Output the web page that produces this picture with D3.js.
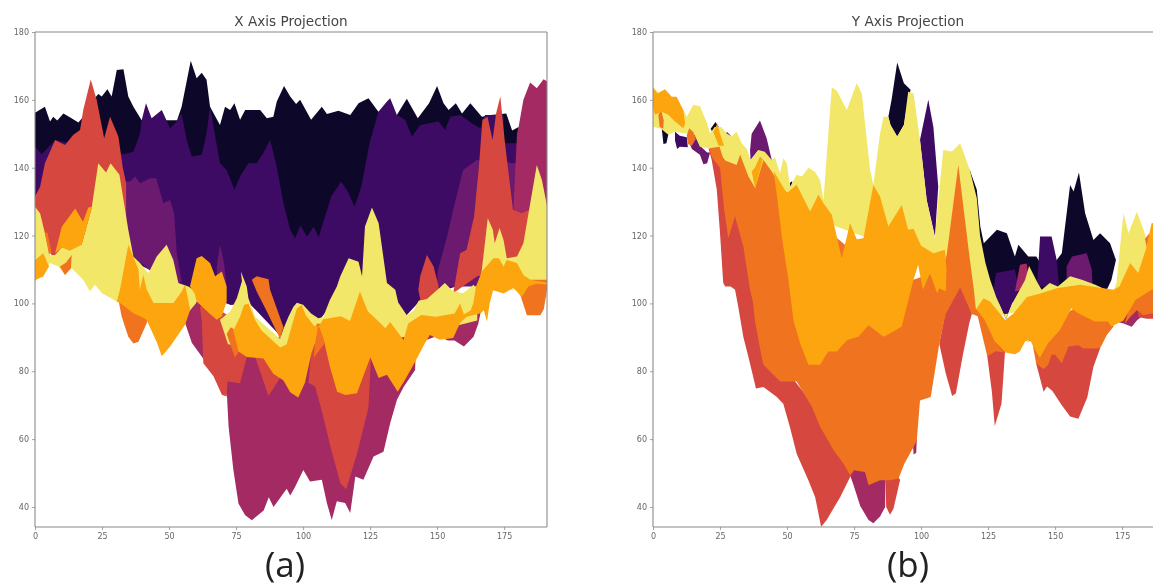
<!DOCTYPE html>
<html><head><meta charset="utf-8">
<script src="https://cdn.jsdelivr.net/npm/d3@7"></script>
<style>html,body{margin:0;padding:0;background:#fff;overflow:hidden}svg{display:block;filter:blur(.6px)}</style>
</head><body><div id="c"></div>
<script>
const xTicks=[0,25,50,75,100,125,150,175];
const yTicks=[40,60,80,100,120,140,160,180];
const titles=["X Axis Projection","Y Axis Projection"];
const captions=["(a)","(b)"];
const palette={black:"#0d0829",purple:"#3d0b63",purple2:"#6b1a70",magenta:"#a32a63",red:"#d5473f",yellow:"#f2e768",orange:"#f0731f",amber:"#fca50f"};

/* Panel (a): outlines of each coloured band as [column, row value] */
const aBlack=[[0,156.2],[3.7,158],[5.6,153.6],[6.8,155],[8.3,153.9],[10.6,156],[13,154.9],[16.2,153.3],[18,155],[21.8,160],[23.6,161.7],[24.9,161],[27,163.1],[28.6,161],[30.5,168.8],[33,169],[34.8,161],[36.7,158],[39.8,154],[53,154],[54.7,158],[58.1,171.5],[60.3,166.4],[62.2,168],[64,165.9],[65.3,158],[69,152.6],[70.9,158],[72.8,157],[74.4,159],[76.5,154.1],[78.4,157],[84,157],[86.5,154.6],[88.9,155],[90.2,159.5],[92.9,164.1],[95.2,161],[97.4,158.8],[98.9,160],[103,154.1],[107,158],[108.9,155.8],[113.2,156.8],[117.6,155.5],[120.7,159],[124.4,160.5],[128.1,156.5],[135,155.5],[138.7,160.3],[142.8,154.6],[147,159],[150,164.1],[152.4,159],[154.3,157],[157,159],[159.3,156],[162.4,159],[166.7,155],[170,155.5],[175.8,156],[178,151],[180.4,152],[181,135],[100,110],[0,135]];
const aPurple=[[0,146.2],[2.5,144],[7.5,148.2],[33,144],[36.7,144.7],[39.2,150.1],[39.8,154],[41.4,159],[43.5,154.6],[47.3,157],[50.4,151.6],[52.9,153.6],[54.7,156],[56.6,148.2],[58.5,143.3],[62.2,143.8],[64,150.1],[65.3,158],[69,141.3],[71.5,139.3],[74.4,133.5],[76.5,137.4],[79.6,141.3],[82.7,141.3],[85.2,144.3],[87.7,148.2],[90.2,140.3],[92.7,129.5],[95.2,121.7],[97,119.2],[99,123],[101.5,119.7],[104,122.6],[105.8,119.5],[110.5,131.5],[114.2,135.9],[116.7,133],[119.2,128.5],[121.7,134.4],[124.8,147.2],[128.1,156.5],[131.3,159.5],[132.5,160.5],[135,155.5],[138.1,154.1],[140.6,149.2],[143.7,152.6],[150.5,153.6],[153,151.1],[154.9,155],[158.6,155.5],[163,153.1],[166.1,151.6],[167.9,155.5],[171,155.5],[174.8,155.5],[174.9,147.2],[179.2,147.2],[181,147],[181,122],[165,107],[145,102],[138,96],[115,104],[106,95],[92,90],[80,100],[73,99.5],[55,105],[30,115],[0,128]];
const aPurple2A=[[33.6,135.9],[35.5,135.9],[37.3,137.4],[39.2,135.4],[42.9,136.9],[45.2,136.9],[47.9,129.5],[50.4,130.5],[51.9,126.6],[52.9,114.8],[54.7,106.4],[50,105],[35,115],[33,125]];
const aPurple2B=[[67.8,110.9],[69,117.3],[70.5,112],[71.5,105],[68,105]];
const aPurple2C=[[150,105],[150.3,109.9],[153.4,118.7],[157.2,131.5],[159.7,139.3],[164.8,142.3],[168,142],[168,105]];
const aPurple2D=[[175,142],[178,141.3],[181,141.3],[181,125],[176,125]];
const aMagentaA=[[56,96.1],[60.3,100.6],[80,90],[100,90],[120,85],[135,90],[150,100],[166.3,100],[166.3,97.6],[165.4,94.1],[163.6,90.2],[160,87.3],[156.5,89.1],[154,89.1],[150.3,90.5],[146.2,89.3],[144.3,88.2],[142,85.3],[141.8,80.4],[137.5,75.4],[135,71.5],[132.5,64.7],[130,56.3],[126.3,54.9],[122.5,48],[119.5,49],[117.6,38.2],[115.7,41.2],[112.6,41.7],[110.7,36.2],[108.9,41.1],[107,48],[102.6,47.5],[100.1,50.9],[97,45.9],[95.2,43.4],[93.9,45.4],[89,40],[87.2,42.9],[85.3,39],[80.9,36.1],[78.4,37.6],[75.9,41],[74,51],[72.2,63.8],[71.6,73.1],[71,74],[67,79.5],[63,83.5],[58.5,88.4],[56,94.2]];
const aMagentaB=[[179.8,150.1],[180.4,152],[182.2,160],[184.7,165.1],[187.2,163.4],[189.7,166.1],[192,165],[192,120],[178.5,120],[178.5,128.5],[179.1,138.4]];
const aRedA=[[0,131.5],[1.9,134.4],[3.7,141.3],[7.5,148.2],[11.2,146.7],[14.3,149.7],[16.8,151.1],[18,157],[20.8,166],[23,160],[25.8,148.7],[28,155],[31.1,149.2],[32.7,140.3],[34,135.4],[34,125],[20,112],[8,112],[4,117],[0,128]];
const aRedB=[[61.5,99],[62.2,95],[62.8,82.4],[66.6,78.5],[69.7,73.1],[71.5,72.6],[71.8,77],[76.5,76.5],[79,84.2],[82.1,84.2],[87.1,72.7],[91.4,78],[92,85],[75,95],[65,100]];
const aRedC=[[102,76.6],[104.5,75.5],[107.2,67.6],[110.2,57.8],[113.9,47],[116.1,45.2],[120.1,55.6],[124.4,69.3],[125.3,83.5],[125,90],[104,90],[103,85]];
const aRedD=[[143,104],[143.7,108],[146.2,114.3],[148.7,110.9],[150.6,105],[150,100],[144,100]];
const aRedE=[[156,103],[158.6,114.8],[161,115.8],[163.8,125.6],[165.6,140.3],[166.9,154.1],[168.8,155],[170.7,148.2],[172,156],[173.6,161],[175.2,148.2],[178.3,127.6],[181.5,126.6],[184.5,127.6],[186,112],[165,108]];
const aYellowA=[[0,128.5],[1.9,126.6],[3.7,120.7],[5.6,114.3],[7.5,114.3],[10,116.5],[17.4,117.3],[21.1,128],[23.6,141.3],[26.5,138.6],[28.2,141.3],[31.5,137.9],[34.8,121.7],[36.7,113.8],[39.2,111.9],[42.3,108.9],[45.4,113.8],[49.1,117.3],[51.6,112.8],[53.5,106],[57.2,105],[61,103],[60,100],[57.8,98],[56,100],[54.7,103.5],[51.6,100.1],[42,100],[32,100],[30.5,100.6],[25,103],[22.4,105.5],[20.5,103.5],[18,107],[13.7,110.4],[11.2,108.4],[8.7,110.9],[5.6,111.9],[3.1,108.4],[0,106.5]];
const aYellowB=[[69,95.2],[72.8,97.6],[75.3,101.5],[77.2,106.5],[76.8,109.4],[79,105],[79.6,101.6],[82.1,96.1],[91.4,89.6],[92.7,92.5],[94.5,96],[96.4,99],[97.7,100.2],[100,99.6],[103,97],[105.7,95.6],[107.5,96],[110,101],[112.6,105],[113.9,108],[117,113.3],[120.7,112.3],[122,108],[123.1,122.7],[125.7,128.3],[128.2,123.6],[131.3,106],[134.4,104],[135.5,100.3],[138.7,96.5],[141.3,98],[143.1,100.8],[146.2,101.3],[149.5,103.6],[152.9,106],[156,103.6],[159.7,103],[163.6,105.5],[165,104],[165,95],[140,90],[110,90],[95,85],[72,88]];
const aYellowC=[[165.8,106],[166.7,110],[168.9,125.1],[170.8,121.7],[171.5,117.7],[173.3,122.2],[174.8,118.7],[176,113.3],[179.8,113.8],[182.2,117.7],[184.1,126.6],[187.2,140.8],[189.1,136.4],[191.2,128],[192,126],[192,104],[166,104]];
const aOrangeA=[[31,101.6],[32.3,96.2],[34.8,90.2],[36.7,88.2],[38.6,88.7],[41.7,94.2],[42,97],[32,103]];
const aOrangeB=[[9.3,110.9],[11.5,112],[13.7,114.3],[13.4,110.4],[11.2,108.4]];
const aOrangeC=[[80.9,107],[82.7,108],[87.1,107.1],[87.7,104],[92.7,93],[91.4,89.6],[86.5,97.6],[82.7,103.5]];
const aOrangeD=[[71.5,91],[74.6,84],[76,85.8],[75,92],[73,93]];
const aOrangeE=[[180,105],[183.5,96.5],[188.5,96.5],[189.8,98.3],[191.2,104.9],[192,107],[184,107]];
const aOrangeF=[[104,84],[105,94],[108,94],[107.8,88]];
const aOrangeG=[[3.7,120.7],[4.6,121],[6.2,115],[5.2,114.5]];
const aAmberA=[[7.5,114.8],[10,122.6],[15,128],[17.9,124.1],[19.9,128.3],[21.3,128.5],[17.4,117.3],[13,115.5],[10,116.5]];
const aAmberB=[[0,112.8],[3.1,114.8],[5.2,110.9],[3.1,107.9],[0,106.9]];
const aAmberC=[[57.8,105],[60.3,113.3],[62.2,114],[65.3,111.9],[67.2,108],[69.7,109.4],[71.5,105],[71.5,100.6],[69.7,96.2],[67.8,95.2],[65,97.1],[60.3,100.6],[59.5,103]];
const aAmberD=[[31.7,104],[34.8,117.3],[38.6,110],[39.1,104],[40.4,108.4],[41.7,104],[42.4,103],[44.2,100.1],[51.6,100.1],[54.7,103.5],[56,105.5],[57.9,98.1],[56,93.7],[52.9,90.2],[50.4,87.3],[47.3,84.4],[45.4,88.6],[41.6,95.2],[39.2,96.2],[36.7,97.1],[32,100],[30.5,100.6]];
const aAmberE=[[74,92],[76.5,96.1],[78,99.5],[79.6,100],[82.1,95.1],[84.5,92],[87.7,89.7],[89.6,88.3],[91.5,87],[93.9,88],[96,94],[97.7,98.5],[99.5,99.5],[101,96.5],[104,93.5],[105.7,93],[107.5,95.3],[114.1,96.2],[117.5,94.8],[121.2,103.5],[124.2,97.6],[127.5,95.2],[130.7,92.7],[132.5,94.5],[137.5,89.2],[139.2,94.1],[144.1,96.6],[149.5,96.1],[156.5,97],[158.6,100],[160,96.7],[162.5,98],[163.5,100],[164.5,105],[166.7,109.4],[171,113.3],[173,113.3],[174.8,110.9],[176,112.8],[179.8,111.9],[182.2,108.4],[184.7,107],[192,106],[192,105.5],[187,105.8],[184,105],[181.6,101.8],[178.5,104.6],[174.8,102.9],[170.9,103.9],[169.6,100],[168.6,94.7],[167.4,98],[166.3,97.1],[161,96.1],[158.6,94.2],[156,89.8],[154,89.6],[151,89.3],[147.3,90.7],[145.4,88.2],[141.8,82.8],[138,77.4],[135.3,74],[131.3,79],[128.2,78],[125.1,84.1],[120.1,73.5],[115.8,73],[112.7,74],[110,81.4],[107.5,90],[105.7,93.7],[104.5,88.4],[103.2,85.5],[100.7,76.6],[98.2,72.3],[95.2,73.8],[92.7,77.3],[88.9,79.3],[85.2,83.8],[79,84.2],[75.9,85.8]];

/* Panel (b) */
const bBlackA=[[87.8,155],[89,160],[91.1,171],[93.6,164.9],[96.1,163],[95.2,160],[93.6,152.6],[91.1,149.2],[88.6,152.6]];
const bBlackB=[[118,139.8],[119,137.5],[120.8,133.5],[122.1,122.7],[123.4,117.7],[128.3,121.7],[132,120.7],[135,113.8],[136.3,117.3],[140,113.8],[143,113.8],[146,110],[150.6,112.8],[152.5,114.8],[155.6,134.9],[156.9,133],[158.9,138.6],[161.2,126.6],[164.3,118.7],[166.8,120.7],[170.5,117.7],[172.7,112.8],[171,106.9],[169.3,104],[150,104],[133,100],[122,100]];
const bBlackC=[[3.2,152],[3.9,147],[5,147.2],[5.7,149.7],[4.5,152.5]];
const bBlackD=[[21.5,151.5],[23.3,153.5],[24.5,152],[22.5,150]];
const bBlackE=[[51,135.5],[51.9,136],[52,134.5],[51.3,134]];
const bPurpleA=[[99.6,148.2],[102.7,160],[104.6,152],[106.4,134.4],[105.2,119.7],[102.1,130.5]];
const bPurpleB=[[143.5,108],[144.4,119.7],[148.7,119.7],[150.6,112.8],[151.5,105],[143,105]];
const bPurpleC=[[8.2,150.6],[10,149.4],[12.6,149],[13,146],[10,146.2],[9,145.5],[8.2,148]];
const bPurpleD=[[127,104],[129,100],[131.7,95.3],[134,100],[136.5,104],[135,110],[128,109]];
const bPurple2A=[[13.5,147.5],[15.5,149.8],[17.5,146.5],[20.2,144.5],[21.3,144.5],[20.2,141.3],[18.8,141],[17.5,143.8],[14.5,145.5]];
const bPurple2B=[[36.2,145.2],[36.8,150],[39.9,153.9],[42.4,148.7],[44.3,142.3],[41,143],[39.3,145.2],[36.4,142.3]];
const bPurple2C=[[154.3,105],[154.3,110.9],[156.3,113.8],[161.8,114.8],[163.7,109.9],[164,105]];
const bPurple2D=[[26.8,148.5],[27.5,150.6],[29,149.5],[27.5,147.5]];
const bMagentaA=[[73.5,49.4],[75,55],[85,55],[86.6,48],[86.6,40],[84.7,37.2],[82.2,35.2],[80.4,36.2],[77.3,40.3],[74.8,46.5]];
const bMagentaB=[[135,103.5],[136.9,111.4],[139.4,111.8],[140,108],[138,104]];
const bMagentaC=[[171,95],[175.5,94.1],[178.6,93.1],[180.5,95],[182.9,96.5],[182,100],[172,98]];
const bMagentaD=[[97,58.5],[98.4,60],[98.2,56],[97.2,55.5]];
const bRedA=[[20.7,145.7],[21.9,142.3],[23.8,133.5],[25,120.7],[26.2,106],[26.9,105],[29,105],[30.6,104],[31.8,99],[33.7,90.1],[35.6,84.2],[37.4,78.3],[38.4,74.9],[41.2,75.4],[46.2,72.4],[48.6,70.4],[51.1,63.5],[53.6,55.7],[58,47.8],[60.5,42.9],[62.7,34.2],[64.8,36.2],[69.8,42.9],[73.5,48.8],[76,52],[60,70],[50,80],[40,90],[36,110],[30,130],[26,146]];
const bRedB=[[86.6,48],[87,40],[88.4,37.7],[89.7,39.5],[92.2,48],[90,50]];
const bRedC=[[106.8,88.1],[109.2,79.4],[111.6,72.7],[113,73.5],[115.5,84.4],[118,94.2],[119,97],[114.6,106],[109,97]];
const bRedD=[[124.7,84.4],[126.4,74.1],[127.5,63.9],[130,70.4],[131.3,85.5],[131.5,92],[125,92]];
const bRedE=[[142.9,82.4],[145.7,74],[147,75.5],[149,74.2],[152.5,70],[155.6,66.7],[158.7,66],[162,72.3],[164.3,81.3],[166.8,86.8],[165,92],[145,88]];
const bRedF=[[181,96],[184.2,95.5],[192,95.5],[192,101],[181,100]];
const bYellow=[[0,163.7],[5,160],[11.3,157],[12.6,155],[15,158.5],[17.5,158.2],[20.2,153],[21.3,150.1],[23,152],[25.5,152],[27.5,150.1],[29.4,149.2],[31.2,150.6],[33.1,147.2],[35,145.5],[36.4,142.3],[39.3,145.2],[41.7,144.7],[44.3,142.3],[45.5,143],[47.4,138.4],[48.6,142.8],[49.9,141.3],[51.1,134.4],[53.6,137.9],[55.5,137.4],[58,140],[60.4,138.8],[62.3,136.4],[63.6,130.5],[65.4,150],[66.7,163.7],[68.6,162.7],[72.3,157],[76,164.9],[77.9,161.9],[79.1,153],[81,139.3],[82.2,134.9],[84.7,150.1],[86,155],[87.8,155],[88.6,152.6],[91.1,149.2],[93.6,152.6],[95.2,162.4],[97.2,161.9],[99.6,148.2],[102.1,130.5],[105.2,119.2],[106.4,130.5],[108.3,145.2],[111.5,144.8],[114.6,147.2],[118.3,139],[120.8,131],[122,120],[124,112],[125.8,106.9],[128,102],[131.7,95.3],[134,100],[138.8,106.9],[140.3,111],[143.5,106],[145,104],[148,106],[151,105],[155.6,108],[160,107],[165,105.5],[169,104],[172,104],[172.9,106],[175.5,126.6],[177.4,120.7],[180.5,127],[183,121.7],[184.2,118.7],[186.1,122.7],[192,122],[192,108],[172,100],[140,98],[125,96],[120.5,97],[118,110],[106,112],[60,125],[50,130],[40,133],[30,139],[26,143],[20.7,145.7],[17.5,146.2],[15.5,149.8],[12.6,150],[8.2,150.6],[5.7,149.7],[3,151.5],[0,152.1]];
const bOrangeA=[[21,145.7],[24.8,146.2],[26.4,142.3],[31.2,140.8],[32.5,143.8],[35.6,137.4],[38.1,134],[41.2,142.3],[44.3,138.9],[47,135],[60,125],[90,105],[108,110],[109.6,114.5],[113.9,140.8],[117.9,114.8],[119.7,104],[120.4,98.6],[122,96],[118.9,96.9],[114.6,104.7],[109.2,96.9],[106.8,88.1],[103.6,72.4],[99.6,71.4],[98.4,59.6],[97.2,57.7],[93.8,52.8],[91.6,48.4],[88.4,47.9],[84.7,47.9],[80.4,46.4],[79.1,50.3],[74.8,50.8],[73.5,49.4],[71,52.8],[67.3,56.8],[62.3,63.7],[59.2,69.6],[53.6,77],[47.4,77],[41.2,81.9],[40.6,83.9],[38,95],[37.4,100],[36.2,104],[33.7,116.8],[30.6,125.6],[28.1,119.2],[26.5,128],[25,140],[22,143]];
const bOrangeB=[[120.4,98.6],[121.6,94.7],[124.7,84.4],[127.8,85.9],[131,85.5],[127.8,88.5],[124.5,95],[122,97.5]];
const bOrangeC=[[139.5,88.7],[141.4,89],[142.9,82.4],[145.7,80.6],[147.5,82],[148.7,84.9],[150,84.9],[152.5,82.4],[155,87.3],[158.7,87.7],[160.5,86.7],[164.3,86.7],[166.8,86.8],[169.3,90.7],[171.8,93.2],[171,98],[160,100],[150,95],[145,92]];
const bOrangeD=[[176,94],[178,96],[180.5,98],[182.9,96.5],[186,97],[192,96.3],[192,108],[184,106],[178,100]];
const bOrangeE=[[183.5,119],[185,120.5],[186,117],[184.5,115.5]];
const bOrangeF=[[2,155.5],[3,157],[4,154],[3.8,151.5],[2.5,152]];
const bOrangeG=[[12.6,149.5],[13.5,151.6],[15,150.5],[16,148.5],[14.5,146.5],[13,147]];
const bAmberA=[[0,163.7],[1.6,161.9],[4.5,163.1],[7,160.9],[8.8,160.9],[11.3,157],[12,153],[11.3,151.6],[8.2,153.6],[5.7,155.6],[3.2,156.5],[0.7,155.6],[0,158]];
const bAmberB=[[36.8,138.9],[38,140],[39.9,143.3],[41,142.5],[38.1,134]];
const bAmberC=[[22.5,150.5],[24,153],[25,150],[26.5,146.5],[24.5,146.5]];
const bAmberD=[[45,139],[49.9,132.5],[53.6,135],[58.6,127.1],[61.7,132],[63.6,129.5],[66.7,126.1],[70.4,113.3],[73.5,123.6],[76,118.9],[78.5,119.2],[82.2,134.9],[84.7,131.5],[87.8,122.7],[92.8,129],[95.2,121.7],[97.2,122],[100,117],[104.6,114.8],[108.9,115.8],[109.5,110],[109.2,103.5],[106.9,104.5],[106,103],[103.3,108.9],[100.7,104],[98.9,111.4],[97.2,107],[94,97],[92.8,93.2],[89.7,91.7],[86,90.2],[80.4,93.6],[76.6,90.2],[72.4,89.2],[68.6,85.8],[65.4,85.8],[62.3,81.9],[58,81.9],[54.9,88.2],[52.4,95],[50.5,107],[48,120],[46.5,130]];
const bAmberE=[[120.8,98.6],[123.3,101.5],[125.8,100.5],[131.4,95.1],[134.5,97],[139.5,101.9],[144.5,102.9],[150.6,104.5],[159.3,105.5],[171.8,104],[174,105],[178,111.9],[181,109],[184,116.3],[186,123.6],[192,125],[192,106],[186,104],[180,101],[175.5,95],[171,93.2],[169.7,94.7],[164.8,94.7],[158.6,97.1],[156.1,98.6],[151.8,92.2],[147.4,88.3],[144.3,83.9],[142.5,86.4],[140.6,89.3],[138.8,88.8],[136.9,85.9],[135.1,85],[131.4,85.5],[127.5,88.8],[123.7,95.2],[121.2,97.7]];

const aLayers=[[aBlack,"black"],[aPurple,"purple"],[aPurple2A,"purple2"],[aPurple2B,"purple2"],[aPurple2C,"purple2"],[aPurple2D,"purple2"],[aMagentaA,"magenta"],[aMagentaB,"magenta"],[aRedA,"red"],[aRedB,"red"],[aRedC,"red"],[aRedD,"red"],[aRedE,"red"],[aYellowA,"yellow"],[aYellowB,"yellow"],[aYellowC,"yellow"],[aOrangeA,"orange"],[aOrangeB,"orange"],[aOrangeC,"orange"],[aOrangeD,"orange"],[aOrangeE,"orange"],[aOrangeF,"orange"],[aOrangeG,"orange"],[aAmberA,"amber"],[aAmberB,"amber"],[aAmberC,"amber"],[aAmberD,"amber"],[aAmberE,"amber"]];
const bLayers=[[bBlackA,"black"],[bBlackB,"black"],[bBlackC,"black"],[bBlackD,"black"],[bBlackE,"black"],[bPurpleA,"purple"],[bPurpleB,"purple"],[bPurpleC,"purple"],[bPurpleD,"purple"],[bPurple2A,"purple2"],[bPurple2B,"purple2"],[bPurple2C,"purple2"],[bPurple2D,"purple2"],[bMagentaA,"magenta"],[bMagentaB,"magenta"],[bMagentaC,"magenta"],[bMagentaD,"magenta"],[bRedA,"red"],[bRedB,"red"],[bRedC,"red"],[bRedD,"red"],[bRedE,"red"],[bRedF,"red"],[bYellow,"yellow"],[bOrangeA,"orange"],[bOrangeB,"orange"],[bOrangeC,"orange"],[bOrangeD,"orange"],[bOrangeE,"orange"],[bOrangeF,"orange"],[bOrangeG,"orange"],[bAmberA,"amber"],[bAmberB,"amber"],[bAmberC,"amber"],[bAmberD,"amber"],[bAmberE,"amber"]];

const W=1153,H=587,font="'DejaVu Sans',sans-serif",grey="#8a8a8a";
const svg=d3.select("#c").append("svg").attr("width",W).attr("height",H);
const panels=[
 {left:35,layers:aLayers,title:titles[0],cap:captions[0],capX:285,titleX:291,right:true},
 {left:653,layers:bLayers,title:titles[1],cap:captions[1],capX:908,titleX:908,right:false}];
const plotTop=32,plotBottom=527,plotW=512;
panels.forEach((p,i)=>{
  const x=d3.scaleLinear().domain([0,191]).range([p.left,p.left+plotW]);
  const y=d3.scaleLinear().domain([34.1,180]).range([plotBottom,plotTop]);
  const g=svg.append("g");
  const id="clip"+i;
  svg.append("clipPath").attr("id",id).append("rect").attr("x",p.left).attr("y",plotTop).attr("width",plotW).attr("height",plotBottom-plotTop);
  const line=d3.line().x(d=>x(d[0])).y(d=>y(d[1]));
  g.append("g").attr("clip-path",`url(#${id})`).selectAll("path").data(p.layers).join("path")
    .attr("d",d=>line(d[0])+"Z").attr("fill",d=>palette[d[1]]);
  const ax=g.append("g").attr("transform",`translate(0,${plotBottom})`).call(d3.axisBottom(x).tickValues(xTicks).tickSize(3).tickPadding(3));
  const ay=g.append("g").attr("transform",`translate(${p.left},0)`).call(d3.axisLeft(y).tickValues(yTicks).tickSize(3).tickPadding(3));
  [ax,ay].forEach(a=>{
    a.selectAll("path").remove();
    a.selectAll("line").attr("stroke",grey).attr("stroke-width",.8);
    a.selectAll("text").attr("fill","#666").attr("font-family",font).attr("font-size",8);
  });
  const sp=[[p.left,plotTop,p.left,plotBottom],[p.left,plotBottom,p.left+plotW,plotBottom],[p.left,plotTop,p.left+plotW,plotTop]];
  if(p.right) sp.push([p.left+plotW,plotTop,p.left+plotW,plotBottom]);
  g.selectAll("line.sp").data(sp).join("line").attr("class","sp")
    .attr("x1",d=>d[0]).attr("y1",d=>d[1]).attr("x2",d=>d[2]).attr("y2",d=>d[3])
    .attr("stroke",grey).attr("stroke-width",1.1);
  g.append("text").attr("x",p.titleX).attr("y",25.5).attr("text-anchor","middle")
    .attr("font-family",font).attr("font-size",13.6).attr("fill","#444").text(p.title);
  svg.append("text").attr("x",p.capX).attr("y",577).attr("text-anchor","middle")
    .attr("font-family","'Open Sans',sans-serif").attr("font-size",35).attr("fill","#222").text(p.cap);
});
</script></body></html>
